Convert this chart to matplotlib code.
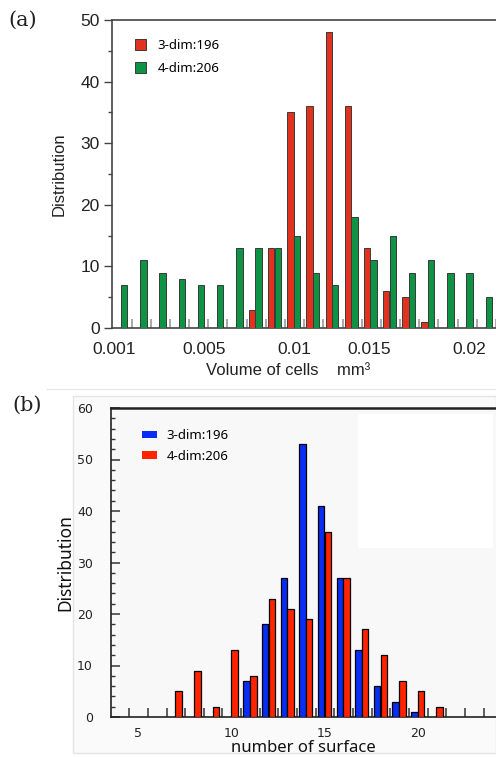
import matplotlib.pyplot as plt
import matplotlib.patches as mpatches
import matplotlib.lines as mlines
import numpy as np

# (a) volume of cells, 20 bins
vol_ticklabels = ['0.001', '0.005', '0.01', '0.015', '0.02']
red_a = [0, 0, 0, 0, 0, 0, 0, 3, 13, 35, 36, 48, 36, 13, 6, 5, 1, 0, 0, 0]
green_a = [7, 11, 9, 8, 7, 7, 13, 13, 13, 15, 9, 7, 18, 11, 15, 9, 11, 9, 9, 5]

# (b) number of surfaces
surf = list(range(7, 22))
blue_b = [0, 0, 0, 0, 7, 18, 27, 53, 41, 27, 13, 6, 3, 1, 0]
red_b = [5, 9, 2, 13, 8, 23, 21, 19, 36, 27, 17, 12, 7, 5, 2]
surf_ticks = [5, 10, 15, 20]

W, H = 496, 758
fig = plt.figure(figsize=(W / 100, H / 100), dpi=100)

def px(x0, y0, x1, y1):
    # pixel box (top-left origin) -> figure fraction rect
    return [x0 / W, 1 - y1 / H, (x1 - x0) / W, (y1 - y0) / H]

# ---------------- panel (a) ----------------
sans_a = ['Liberation Sans', 'DejaVu Sans']
ax1 = fig.add_axes(px(112, 20, 496, 328))
idx = np.arange(len(green_a))
ra = np.array(red_a)
m = ra > 0
w = 0.33
ax1.bar(idx[m] - 0.17, ra[m], w, color='#e3311f', edgecolor='#3a3a3a', linewidth=0.7,
        label='3-dim:196', zorder=3)
ax1.bar(idx + 0.17, green_a, w, color='#0e9243', edgecolor='#3a3a3a', linewidth=0.7,
        label='4-dim:206', zorder=3)
ax1.set_xlim(-0.47, 19.47)
ax1.set_ylim(0, 50)
ax1.set_xticks([-0.35, 4.35, 9.03, 12.95, 18.16])
ax1.set_xticklabels(vol_ticklabels, fontfamily=sans_a, fontsize=12.5, color='#222')
ax1.set_xticks(idx + 0.55, minor=True)
ax1.tick_params(axis='x', which='major', length=0, pad=10)
ax1.tick_params(axis='x', which='minor', direction='in', length=6.5, width=1.2, color='#9a9a9a')
ax1.set_yticks(range(0, 51, 10))
ax1.set_yticks(range(5, 50, 10), minor=True)
ax1.tick_params(axis='y', which='major', direction='out', length=5.8, width=1, color='#444', pad=3)
ax1.tick_params(axis='y', which='minor', direction='out', length=3, width=1, color='#444')
for t in ax1.get_yticklabels():
    t.set_fontfamily(sans_a)
    t.set_fontsize(12.5)
    t.set_color('#222')
for s in ['left', 'bottom', 'top']:
    ax1.spines[s].set_color('#444')
    ax1.spines[s].set_linewidth(1.2)
ax1.spines['right'].set_visible(False)
ax1.set_ylabel('Distribution', fontfamily=sans_a, fontsize=12, color='#222')
ax1.yaxis.set_label_coords(-0.117, 0.5)
ax1.set_xlabel('Volume of cells    mm³', fontfamily=sans_a, fontsize=12, color='#222')
ax1.xaxis.set_label_coords(0.458, -0.114)
leg1 = ax1.legend(loc='upper left', bbox_to_anchor=(135 / W, 1 - 39 / H),
                  bbox_transform=fig.transFigure, frameon=False, borderpad=0,
                  borderaxespad=0, handlelength=0.85, handleheight=0.85,
                  handletextpad=0.85, labelspacing=0.75,
                  prop={'family': ['Noto Sans', 'DejaVu Sans'], 'size': 9.5})
fig.text(8 / W, 1 - 20 / H, '(a)', fontfamily=['DejaVu Serif'], fontsize=15,
         va='center', ha='left', color='#222')

# ---------------- panel (b) ----------------
fig.add_artist(mlines.Line2D([47 / W, 1], [1 - 389 / H, 1 - 389 / H],
                             color='#e6e6e6', linewidth=1))
fig.add_artist(mpatches.Rectangle((73 / W, 1 - 753 / H), (W - 73) / W, (753 - 396) / H,
                                  transform=fig.transFigure, facecolor='#fafafa',
                                  edgecolor='#e4e4e4', linewidth=1, zorder=0))

ax2 = fig.add_axes(px(111, 408, 496, 717))
ax2.set_facecolor('#f8f8f8')
ax2.add_patch(mpatches.Rectangle((358 / W, 1 - 548 / H), (493 - 358) / W, (548 - 414) / H,
                                 transform=fig.transFigure, facecolor='white',
                                 edgecolor='none', zorder=0.5))
sv = np.array(surf)
bb = np.array(blue_b)
m2 = bb > 0
w2 = 0.35
ax2.bar(sv[m2] - 0.18, bb[m2], w2, color='#0a2df5', edgecolor='black', linewidth=0.9,
        label='3-dim:196', zorder=3)
ax2.bar(sv + 0.18, red_b, w2, color='#ff2400', edgecolor='black', linewidth=0.9,
        label='4-dim:206', zorder=3)
ax2.set_xlim(3.55, 24.2)
ax2.set_ylim(0, 60)
ax2.set_xticks(surf_ticks)
ax2.set_xticklabels([str(v) for v in surf_ticks], fontfamily=['DejaVu Sans'],
                    fontsize=9, color='#222')
ax2.set_xticks(np.arange(4, 24) + 0.53, minor=True)
ax2.tick_params(axis='x', which='major', length=0, pad=7)
ax2.tick_params(axis='x', which='minor', direction='in', length=6.5, width=1.1, color='#333')
ax2.set_yticks(range(0, 61, 10))
ax2.set_yticks(range(0, 61, 2), minor=True)
ax2.tick_params(axis='y', which='major', direction='in', length=6.5, width=1.1,
                color='#333', pad=13)
ax2.tick_params(axis='y', which='minor', direction='in', length=3, width=1, color='#333')
for t in ax2.get_yticklabels():
    t.set_fontfamily(['DejaVu Sans'])
    t.set_fontsize(9)
    t.set_color('#222')
for s in ['left', 'bottom']:
    ax2.spines[s].set_color('#222')
    ax2.spines[s].set_linewidth(1.2)
ax2.spines['top'].set_color('#222')
ax2.spines['top'].set_linewidth(1.8)
ax2.spines['right'].set_visible(False)
sans_b = ['Noto Sans', 'DejaVu Sans']
ax2.set_ylabel('Distribution', fontfamily=sans_b, fontsize=12.5, color='#111')
ax2.yaxis.set_label_coords(-0.096, 0.5)
ax2.set_xlabel('number of surface', fontfamily=sans_b, fontsize=12, color='#111')
ax2.xaxis.set_label_coords(0.5, -0.075)
leg2 = ax2.legend(loc='upper left', bbox_to_anchor=(142 / W, 1 - 429 / H),
                  bbox_transform=fig.transFigure, frameon=False, borderpad=0,
                  borderaxespad=0, handlelength=1.15, handleheight=0.5,
                  handletextpad=0.7, labelspacing=0.6,
                  prop={'family': sans_b, 'size': 9.5})
for h in leg2.legend_handles:
    h.set_edgecolor('none')
fig.text(12 / W, 1 - 405 / H, '(b)', fontfamily=['DejaVu Serif'], fontsize=15,
         va='center', ha='left', color='#222')

fig.savefig('out.png', dpi=100)
